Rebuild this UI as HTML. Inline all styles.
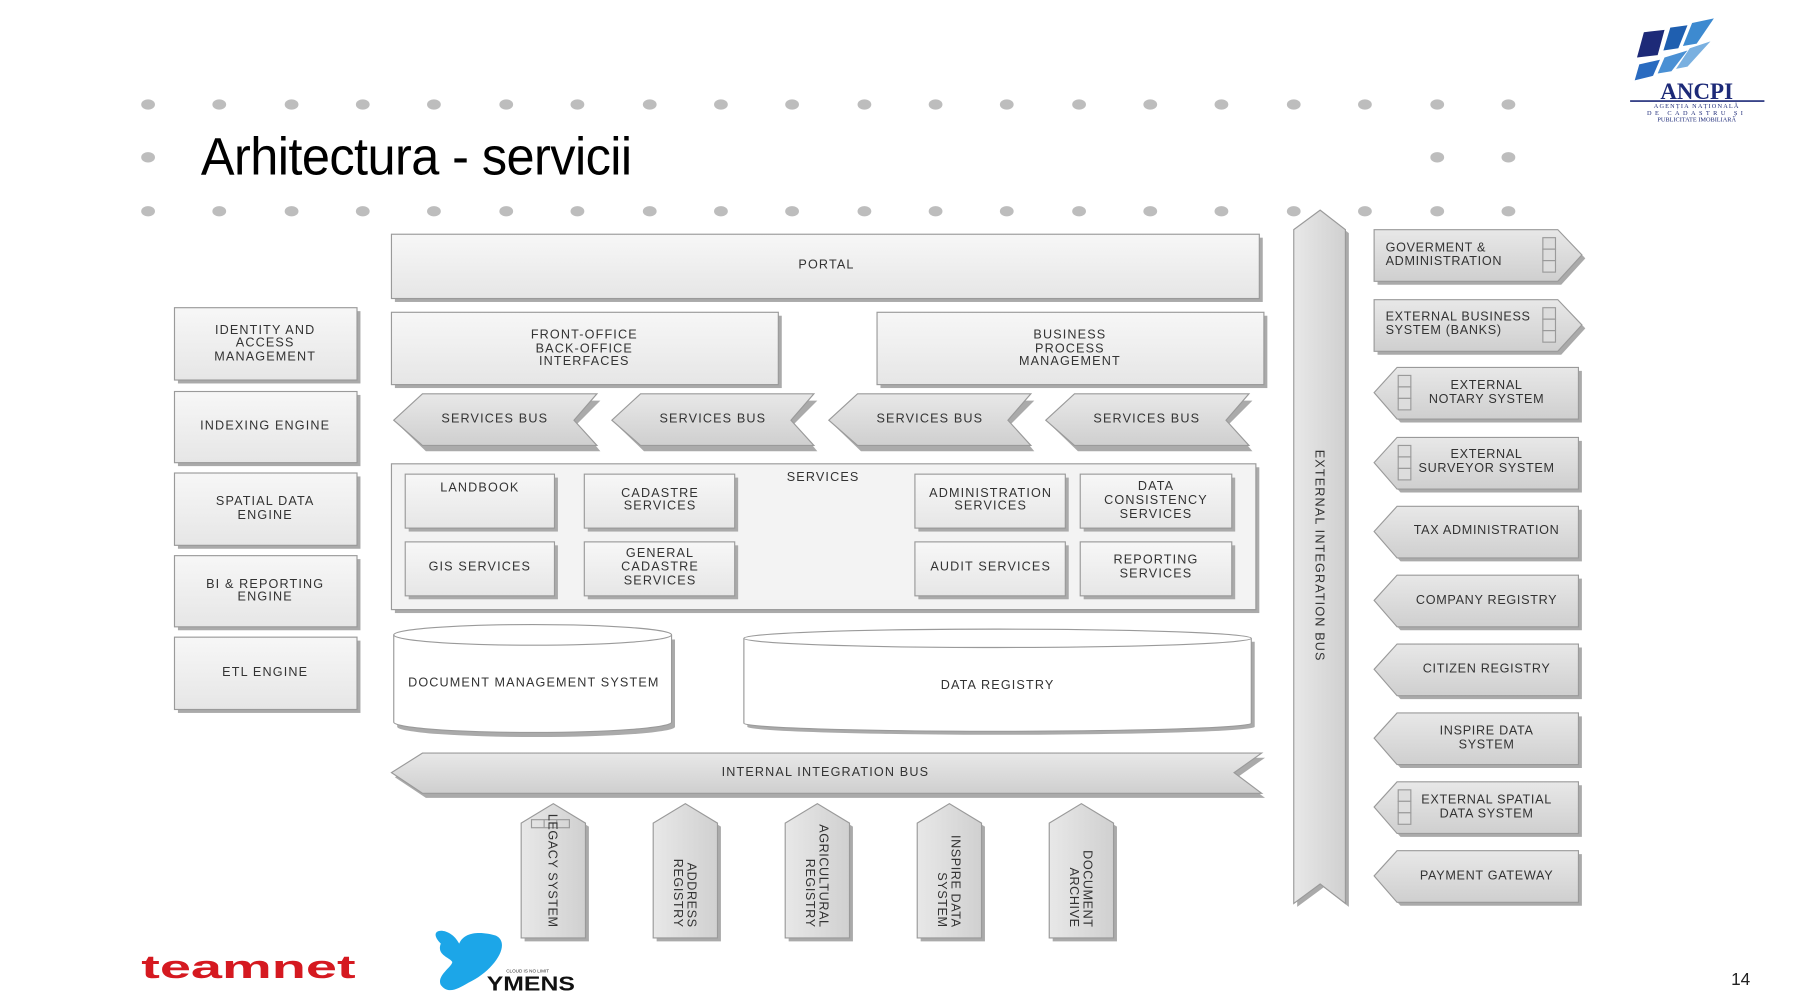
<!DOCTYPE html>
<html><head><meta charset="utf-8"><style>
html,body{margin:0;padding:0;background:#fff;}
svg{display:block;}
text{font-family:"Liberation Sans",sans-serif;fill:#333;}
</style></head><body>
<svg width="1800" height="1008" viewBox="0 0 1568 878" xmlns="http://www.w3.org/2000/svg">
<defs>
<linearGradient id="g" x1="0" y1="0" x2="0" y2="1"><stop offset="0" stop-color="#f7f7f7"/><stop offset="1" stop-color="#e6e6e6"/></linearGradient>
<linearGradient id="gd" x1="0" y1="0" x2="0" y2="1"><stop offset="0" stop-color="#e8e8e8"/><stop offset="1" stop-color="#cfcfcf"/></linearGradient>
<linearGradient id="gv" x1="0" y1="0" x2="1" y2="0"><stop offset="0" stop-color="#e8e8e8"/><stop offset="1" stop-color="#d0d0d0"/></linearGradient>
</defs>
<g fill="#bdbdbd">
<g id="row"><ellipse cx="129" cy="91" rx="6" ry="4.5"/><ellipse cx="191" cy="91" rx="6" ry="4.5"/><ellipse cx="254" cy="91" rx="6" ry="4.5"/><ellipse cx="316" cy="91" rx="6" ry="4.5"/><ellipse cx="378" cy="91" rx="6" ry="4.5"/><ellipse cx="441" cy="91" rx="6" ry="4.5"/><ellipse cx="503" cy="91" rx="6" ry="4.5"/><ellipse cx="566" cy="91" rx="6" ry="4.5"/><ellipse cx="628" cy="91" rx="6" ry="4.5"/><ellipse cx="690" cy="91" rx="6" ry="4.5"/><ellipse cx="753" cy="91" rx="6" ry="4.5"/><ellipse cx="815" cy="91" rx="6" ry="4.5"/><ellipse cx="877" cy="91" rx="6" ry="4.5"/><ellipse cx="940" cy="91" rx="6" ry="4.5"/><ellipse cx="1002" cy="91" rx="6" ry="4.5"/><ellipse cx="1064" cy="91" rx="6" ry="4.5"/><ellipse cx="1127" cy="91" rx="6" ry="4.5"/><ellipse cx="1189" cy="91" rx="6" ry="4.5"/><ellipse cx="1252" cy="91" rx="6" ry="4.5"/><ellipse cx="1314" cy="91" rx="6" ry="4.5"/></g>
<use href="#row" y="93"/>
<ellipse cx="129" cy="137" rx="6" ry="4.5"/><ellipse cx="1252" cy="137" rx="6" ry="4.5"/><ellipse cx="1314" cy="137" rx="6" ry="4.5"/>
</g>
<text font-size="44" transform="translate(175 152) scale(1.0 1.05)" style="fill:#000;letter-spacing:-0.5px">Arhitectura - servicii</text>

<g>
<polygon points="1432,28 1450,26 1444,48 1426,50" fill="#1d2a78"/>
<polygon points="1455,24 1470,22 1462,42 1449,44" fill="#1f5fb0"/>
<polygon points="1474,20 1493,16 1478,38 1466,40" fill="#3d8ad0"/>
<polygon points="1428,56 1446,52 1440,66 1424,70" fill="#2a6bc0"/>
<polygon points="1450,50 1470,44 1456,62 1444,64" fill="#4a90d4"/>
<polygon points="1472,42 1490,36 1470,58 1460,60" fill="#7ab0e0"/>
<text x="1478" y="86" font-size="20" text-anchor="middle" style="font-family:'Liberation Serif',serif;fill:#1d2a78;font-weight:bold">ANCPI</text>
<line x1="1420" y1="88" x2="1537" y2="88" stroke="#1d2a78" stroke-width="1.5"/>
<text x="1478" y="94" font-size="5.5" text-anchor="middle" style="font-family:'Liberation Serif',serif;fill:#1d2a78;letter-spacing:1px">AGENȚIA NAȚIONALĂ</text>
<text x="1478" y="100" font-size="5.5" text-anchor="middle" style="font-family:'Liberation Serif',serif;fill:#1d2a78;letter-spacing:3px">DE CADASTRU ȘI</text>
<text x="1478" y="106" font-size="5.5" text-anchor="middle" style="font-family:'Liberation Serif',serif;fill:#1d2a78">PUBLICITATE IMOBILIARĂ</text>
</g>

<g font-size="11" text-anchor="middle" style="letter-spacing:1px">
<g stroke="#9a9a9a" stroke-width="1">
<rect x="344" y="207" width="756" height="56" fill="#aaa" stroke="none"/>
<rect x="341" y="204" width="756" height="56" fill="url(#g)"/>
<rect x="344" y="275" width="337" height="63" fill="#aaa" stroke="none"/>
<rect x="341" y="272" width="337" height="63" fill="url(#g)"/>
<rect x="767" y="275" width="337" height="63" fill="#aaa" stroke="none"/>
<rect x="764" y="272" width="337" height="63" fill="url(#g)"/>
<rect x="155" y="271" width="159" height="63" fill="#aaa" stroke="none"/>
<rect x="152" y="268" width="159" height="63" fill="url(#g)"/>
<rect x="155" y="344" width="159" height="62" fill="#aaa" stroke="none"/>
<rect x="152" y="341" width="159" height="62" fill="url(#g)"/>
<rect x="155" y="415" width="159" height="63" fill="#aaa" stroke="none"/>
<rect x="152" y="412" width="159" height="63" fill="url(#g)"/>
<rect x="155" y="487" width="159" height="62" fill="#aaa" stroke="none"/>
<rect x="152" y="484" width="159" height="62" fill="url(#g)"/>
<rect x="155" y="558" width="159" height="63" fill="#aaa" stroke="none"/>
<rect x="152" y="555" width="159" height="63" fill="url(#g)"/>
<rect x="344" y="407" width="753" height="127" fill="#aaa" stroke="none"/>
<rect x="341" y="404" width="753" height="127" fill="#f3f3f3"/>
<g>
<rect x="356" y="416" width="130" height="47" fill="#aaa" stroke="none"/><rect x="353" y="413" width="130" height="47" fill="url(#g)"/>
<rect x="512" y="416" width="131" height="47" fill="#aaa" stroke="none"/><rect x="509" y="413" width="131" height="47" fill="url(#g)"/>
<rect x="800" y="416" width="131" height="47" fill="#aaa" stroke="none"/><rect x="797" y="413" width="131" height="47" fill="url(#g)"/>
<rect x="944" y="416" width="132" height="47" fill="#aaa" stroke="none"/><rect x="941" y="413" width="132" height="47" fill="url(#g)"/>
<rect x="356" y="475" width="130" height="47" fill="#aaa" stroke="none"/><rect x="353" y="472" width="130" height="47" fill="url(#g)"/>
<rect x="512" y="475" width="131" height="47" fill="#aaa" stroke="none"/><rect x="509" y="472" width="131" height="47" fill="url(#g)"/>
<rect x="800" y="475" width="131" height="47" fill="#aaa" stroke="none"/><rect x="797" y="472" width="131" height="47" fill="url(#g)"/>
<rect x="944" y="475" width="132" height="47" fill="#aaa" stroke="none"/><rect x="941" y="472" width="132" height="47" fill="url(#g)"/>
</g>
<g fill="url(#gd)">
<polygon points="346,369 371,349 523,349 503,369 523,393 371,393" fill="#aaa" stroke="none"/>
<polygon points="343,366 368,343 520,343 500,366 520,388 368,388"/>
<polygon points="536,369 561,349 712,349 692,369 712,393 561,393" fill="#aaa" stroke="none"/>
<polygon points="533,366 558,343 709,343 689,366 709,388 558,388"/>
<polygon points="725,369 750,349 901,349 881,369 901,393 750,393" fill="#aaa" stroke="none"/>
<polygon points="722,366 747,343 898,343 878,366 898,388 747,388"/>
<polygon points="914,369 939,349 1091,349 1071,369 1091,393 939,393" fill="#aaa" stroke="none"/>
<polygon points="911,366 936,343 1088,343 1068,366 1088,388 936,388"/>
</g>
<path d="M346 557 v76 a121 9 0 0 0 242 0 v-76" fill="#aaa" stroke="none"/>
<path d="M343 553 v76 a121 9 0 0 0 242 0 v-76" fill="#fff"/>
<ellipse cx="464" cy="553" rx="121" ry="9" fill="#fff"/>
<path d="M651 559 v74 a221 7 0 0 0 442 0 v-74" fill="#aaa" stroke="none"/>
<path d="M648 556 v74 a221 7 0 0 0 442 0 v-74" fill="#fff"/>
<ellipse cx="869" cy="556" rx="221" ry="8" fill="#fff"/>
<polygon points="344,677 371,660 1102,660 1078,677 1102,695 371,695" fill="#aaa" stroke="none"/>
<polygon points="341,673 368,656 1099,656 1075,673 1099,691 368,691" fill="url(#gd)"/>
<g fill="url(#gv)">
<polygon points="457,720 485,703 513,720 513,820 457,820" fill="#aaa" stroke="none"/><polygon points="454,717 482,700 510,717 510,817 454,817"/>
<polygon points="572,720 600,703 628,720 628,820 572,820" fill="#aaa" stroke="none"/><polygon points="569,717 597,700 625,717 625,817 569,817"/>
<polygon points="687,720 715,703 743,720 743,820 687,820" fill="#aaa" stroke="none"/><polygon points="684,717 712,700 740,717 740,817 684,817"/>
<polygon points="802,720 830,703 858,720 858,820 802,820" fill="#aaa" stroke="none"/><polygon points="799,717 827,700 855,717 855,817 799,817"/>
<polygon points="917,720 945,703 973,720 973,820 917,820" fill="#aaa" stroke="none"/><polygon points="914,717 942,700 970,717 970,817 914,817"/>
</g>
<rect x="463" y="714" width="33" height="7" fill="none"/><line x1="474" y1="714" x2="474" y2="721"/><line x1="485" y1="714" x2="485" y2="721"/>
<polygon points="1130,203 1153,186 1175,203 1175,790 1153,773 1130,790" fill="#aaa" stroke="none"/>
<polygon points="1127,200 1150,183 1172,200 1172,787 1150,770 1127,787" fill="url(#gv)"/>
<g fill="url(#gd)">
<polygon points="1200,203 1360,203 1381,225 1360,248 1200,248" fill="#aaa" stroke="none"/><polygon points="1197,200 1357,200 1378,222 1357,245 1197,245"/>
<polygon points="1200,264 1360,264 1381,286 1360,309 1200,309" fill="#aaa" stroke="none"/><polygon points="1197,261 1357,261 1378,283 1357,306 1197,306"/>
<g id="lc"><polygon points="1200,345 1220,323 1378,323 1378,368 1220,368" fill="#aaa" stroke="none"/><polygon points="1197,342 1217,320 1375,320 1375,365 1217,365"/></g>
<use href="#lc" y="61"/><use href="#lc" y="121"/><use href="#lc" y="181"/><use href="#lc" y="241"/><use href="#lc" y="301"/><use href="#lc" y="361"/><use href="#lc" y="421"/>
</g>
<g fill="#ddd">
<rect x="1344" y="207" width="11" height="10"/><rect x="1344" y="217" width="11" height="10"/><rect x="1344" y="227" width="11" height="10"/>
<rect x="1344" y="268" width="11" height="10"/><rect x="1344" y="278" width="11" height="10"/><rect x="1344" y="288" width="11" height="10"/>
<rect x="1218" y="327" width="11" height="10"/><rect x="1218" y="337" width="11" height="10"/><rect x="1218" y="347" width="11" height="10"/>
<rect x="1218" y="388" width="11" height="10"/><rect x="1218" y="398" width="11" height="10"/><rect x="1218" y="408" width="11" height="10"/>
<rect x="1218" y="688" width="11" height="10"/><rect x="1218" y="698" width="11" height="10"/><rect x="1218" y="708" width="11" height="10"/>
</g>
</g>

<text x="720" y="234">PORTAL</text>
<text x="509" y="295">FRONT-OFFICE</text><text x="509" y="307">BACK-OFFICE</text><text x="509" y="318">INTERFACES</text>
<text x="932" y="295">BUSINESS</text><text x="932" y="307">PROCESS</text><text x="932" y="318">MANAGEMENT</text>
<text x="231" y="291">IDENTITY AND</text><text x="231" y="302">ACCESS</text><text x="231" y="314">MANAGEMENT</text>
<text x="231" y="374">INDEXING ENGINE</text>
<text x="231" y="440">SPATIAL DATA</text><text x="231" y="452">ENGINE</text>
<text x="231" y="512">BI &amp; REPORTING</text><text x="231" y="523">ENGINE</text>
<text x="231" y="589">ETL ENGINE</text>
<text x="431" y="368">SERVICES BUS</text><text x="621" y="368">SERVICES BUS</text><text x="810" y="368">SERVICES BUS</text><text x="999" y="368">SERVICES BUS</text>
<text x="717" y="419">SERVICES</text>
<text x="418" y="428">LANDBOOK</text>
<text x="575" y="433">CADASTRE</text><text x="575" y="444">SERVICES</text>
<text x="863" y="433">ADMINISTRATION</text><text x="863" y="444">SERVICES</text>
<text x="1007" y="427">DATA</text><text x="1007" y="439">CONSISTENCY</text><text x="1007" y="451">SERVICES</text>
<text x="418" y="497">GIS SERVICES</text>
<text x="575" y="485">GENERAL</text><text x="575" y="497">CADASTRE</text><text x="575" y="509">SERVICES</text>
<text x="863" y="497">AUDIT SERVICES</text>
<text x="1007" y="491">REPORTING</text><text x="1007" y="503">SERVICES</text>
<text x="465" y="598">DOCUMENT MANAGEMENT SYSTEM</text>
<text x="869" y="600">DATA REGISTRY</text>
<text x="719" y="676">INTERNAL INTEGRATION BUS</text>
<text transform="translate(1150 484) rotate(90)" y="4">EXTERNAL INTEGRATION BUS</text>
<g text-anchor="end" style="letter-spacing:0.5px">
<text transform="translate(482 808) rotate(90)" y="4">LEGACY SYSTEM</text>
<text transform="translate(597 808) rotate(90)"><tspan x="0" y="-2">ADDRESS</tspan><tspan x="0" y="10">REGISTRY</tspan></text>
<text transform="translate(712 808) rotate(90)"><tspan x="0" y="-2">AGRICULTURAL</tspan><tspan x="0" y="10">REGISTRY</tspan></text>
<text transform="translate(827 808) rotate(90)"><tspan x="0" y="-2">INSPIRE DATA</tspan><tspan x="0" y="10">SYSTEM</tspan></text>
<text transform="translate(942 808) rotate(90)"><tspan x="0" y="-2">DOCUMENT</tspan><tspan x="0" y="10">ARCHIVE</tspan></text>
</g>
<g text-anchor="start" style="letter-spacing:0.6px">
<text x="1207" y="219">GOVERMENT &amp;</text><text x="1207" y="231">ADMINISTRATION</text>
<text x="1207" y="279">EXTERNAL BUSINESS</text><text x="1207" y="291">SYSTEM (BANKS)</text>
</g>
<g style="letter-spacing:0.6px">
<text x="1295" y="339">EXTERNAL</text><text x="1295" y="351">NOTARY SYSTEM</text>
<text x="1295" y="399">EXTERNAL</text><text x="1295" y="411">SURVEYOR SYSTEM</text>
<text x="1295" y="465">TAX ADMINISTRATION</text>
<text x="1295" y="526">COMPANY  REGISTRY</text>
<text x="1295" y="586">CITIZEN REGISTRY</text>
<text x="1295" y="640">INSPIRE DATA</text><text x="1295" y="652">SYSTEM</text>
<text x="1295" y="700">EXTERNAL SPATIAL</text><text x="1295" y="712">DATA SYSTEM</text>
<text x="1295" y="766">PAYMENT GATEWAY</text>
</g>
</g>

<text font-size="28" transform="translate(123 852) scale(1.74 1)" style="fill:#d51920;font-weight:bold">teamnet</text>
<path d="M384 822 C370 808 392 806 400 822 C405 810 422 812 432 815 C446 822 430 846 408 856 C398 862 390 866 384 858 C380 850 394 842 394 838 C392 834 380 832 384 822Z" fill="#1ca6e8"/>
<text x="441" y="847" font-size="4" style="fill:#333">CLOUD IS NO LIMIT</text>
<text font-size="18" transform="translate(424 863) scale(1.2 1)" style="fill:#111;font-weight:bold">YMENS</text>
<text x="1508" y="858" font-size="15" style="fill:#222">14</text>
</svg>
</body></html>
